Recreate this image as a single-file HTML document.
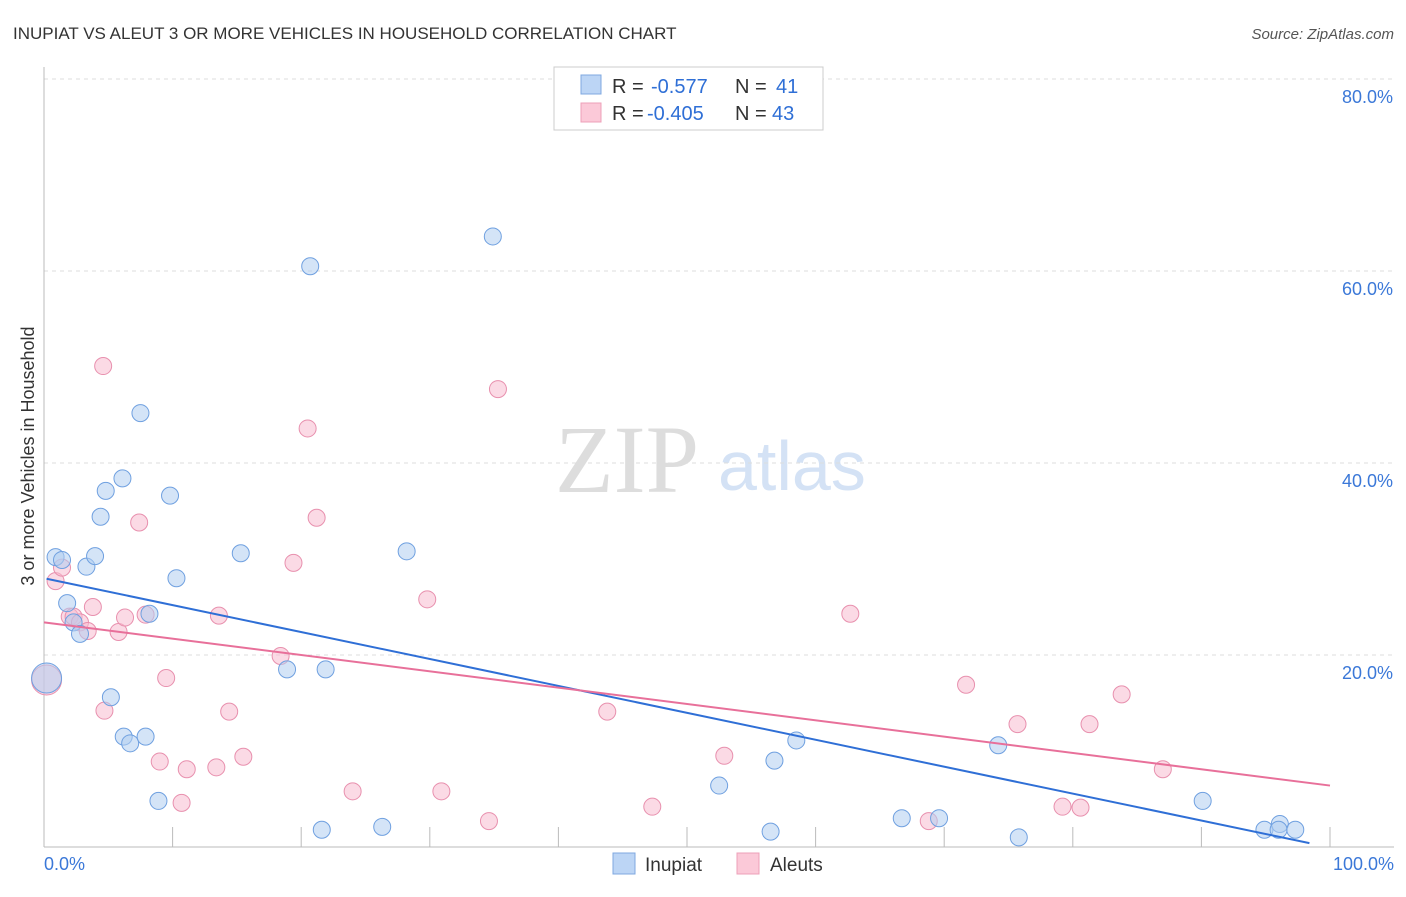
<!DOCTYPE html>
<html><head><meta charset="utf-8"><style>
body{margin:0;background:#fff;font-family:"Liberation Sans",sans-serif;}
svg text{font-family:"Liberation Sans",sans-serif;}
</style></head><body>
<svg id="chart" width="1406" height="892" xmlns="http://www.w3.org/2000/svg">
<text x="13" y="39" font-size="17" fill="#333">INUPIAT VS ALEUT 3 OR MORE VEHICLES IN HOUSEHOLD CORRELATION CHART</text>
<text x="1394" y="39" font-size="15" fill="#555" text-anchor="end" font-style="italic">Source: ZipAtlas.com</text>
<text x="555" y="492" font-size="96" fill="#ddd" style="font-family:'Liberation Serif',serif">ZIP</text>
<text x="718" y="490" font-size="70" fill="#d4e2f5">atlas</text>
<g id="grid"></g>
<g id="axes"></g>
<g id="marks"></g>
<text transform="translate(34,456) rotate(-90)" font-size="18" fill="#333" text-anchor="middle">3 or more Vehicles in Household</text>
<g>
<rect x="554" y="67" width="269" height="63" fill="#fff" stroke="#ccc"/>
<rect x="581" y="75" width="20" height="19" fill="#bcd5f5" stroke="#7fa8e0"/>
<rect x="581" y="103" width="20" height="19" fill="#fbc9d8" stroke="#eea0b8"/>
<text x="612" y="93" font-size="20" fill="#333">R =</text>
<text x="651" y="93" font-size="20" fill="#2f6fd6">-0.577</text>
<text x="735" y="93" font-size="20" fill="#333">N =</text>
<text x="776" y="93" font-size="20" fill="#2f6fd6">41</text>
<text x="612" y="120" font-size="20" fill="#333">R =</text>
<text x="647" y="120" font-size="20" fill="#2f6fd6">-0.405</text>
<text x="735" y="120" font-size="20" fill="#333">N =</text>
<text x="772" y="120" font-size="20" fill="#2f6fd6">43</text>
</g>
<g>
<rect x="613" y="853" width="22" height="21" fill="#bcd5f5" stroke="#7fa8e0"/>
<text x="645" y="871" font-size="19" fill="#333">Inupiat</text>
<rect x="737" y="853" width="22" height="21" fill="#fbc9d8" stroke="#eea0b8"/>
<text x="770" y="871" font-size="19" fill="#333">Aleuts</text>
</g>
</svg>
<script>
const yTicks=[20,40,60,80];
const yTickLabels=["20.0%","40.0%","60.0%","80.0%"];
const xTickLabels=["0.0%","100.0%"];
const inupiatX=[0.2,0.9,1.4,1.8,2.3,2.8,3.3,3.97,4.4,4.8,5.2,6.1,6.2,6.7,7.5,7.9,8.2,8.9,9.8,10.3,15.3,18.9,20.7,21.6,21.9,26.3,28.2,34.9,52.5,56.5,56.8,58.5,66.7,69.6,74.2,75.8,90.1,94.9,96.1,96.0,97.3];
const inupiatY=[17.6,30.2,29.9,25.4,23.4,22.2,29.2,30.3,34.4,37.1,15.6,38.4,11.5,10.8,45.2,11.5,24.3,4.8,36.6,28.0,30.6,18.5,60.5,1.8,18.5,2.1,30.8,63.6,6.4,1.6,9.0,11.1,3.0,3.0,10.6,1.0,4.8,1.8,2.4,1.8,1.8];
const aleutsX=[0.2,0.9,1.4,2.0,2.3,2.8,3.4,3.8,4.6,4.7,5.8,6.3,7.4,7.9,9.0,9.5,10.7,11.1,13.4,14.4,13.6,15.5,18.4,19.4,20.5,21.2,24.0,29.8,30.9,34.6,35.3,43.8,47.3,52.9,62.7,68.8,71.7,75.7,79.2,80.6,81.3,83.8,87.0];
const aleutsY=[17.4,27.7,29.1,24.0,24.0,23.4,22.5,25.0,50.1,14.2,22.4,23.9,33.8,24.2,8.9,17.6,4.6,8.1,8.3,14.1,24.1,9.4,19.9,29.6,43.6,34.3,5.8,25.8,5.8,2.7,47.7,14.1,4.2,9.5,24.3,2.7,16.9,12.8,4.2,4.1,12.8,15.9,8.1];
const inupiatTrend=[28.0,0.4];
const aleutsTrend=[23.4,6.4];
const NS='http://www.w3.org/2000/svg';
const X=v=>44+v*12.86, Y=v=>847-v*9.6;
function mk(tag,attrs,parent){const e=document.createElementNS(NS,tag);for(const k in attrs)e.setAttribute(k,attrs[k]);parent.appendChild(e);return e;}
const grid=document.getElementById('grid'),axes=document.getElementById('axes'),marks=document.getElementById('marks');
yTicks.forEach((t,i)=>{
 const l=mk('line',{x1:44,x2:1394,y1:Y(t),y2:Y(t),stroke:'#ddd','stroke-dasharray':'4,4'},grid);
 
 
 const tx=mk('text',{x:1393,y:Y(t)+24,'font-size':18,fill:'#3b78d8','text-anchor':'end'},axes);
 tx.textContent=yTickLabels[i];
 
 
});
const ax=mk('line',{x1:44,x2:44,y1:67,y2:847,stroke:'#bbb'},axes);


const bx=mk('line',{x1:44,x2:1394,y1:847,y2:847,stroke:'#bbb'},axes);


for(let i=1;i<=10;i++){const t=mk('line',{x1:X(i*10),x2:X(i*10),y1:827,y2:847,stroke:'#bbb'},axes);
 
 }
[[0,'start',44],[100,'end',1394]].forEach((d,i)=>{const t=mk('text',{x:d[2],y:870,'font-size':18,fill:'#3b78d8','text-anchor':d[1]},axes);t.textContent=xTickLabels[i];
 
 });
function pts(xs,ys,fill,stroke,name){xs.forEach((x,i)=>{const c=mk('circle',{cx:X(x),cy:Y(ys[i]),r:i===0?15:8.5,fill:fill,'fill-opacity':0.55,stroke:stroke,'stroke-width':1},marks);
 
 });}
pts(aleutsX,aleutsY,'#f8bcd0','#e890ae','aleuts-point');
pts(inupiatX,inupiatY,'#b0cdf0','#6fa0e0','inupiat-point');
const l1=mk('line',{x1:X(0.2),y1:Y(inupiatTrend[0]-(inupiatTrend[0]-inupiatTrend[1])*0.2/98.4),x2:X(98.4),y2:Y(inupiatTrend[1]),stroke:'#2f6fd6','stroke-width':2},marks);


const l2=mk('line',{x1:X(0),y1:Y(aleutsTrend[0]),x2:X(100),y2:Y(aleutsTrend[1]),stroke:'#e8709a','stroke-width':2},marks);


</script>
</body></html>
